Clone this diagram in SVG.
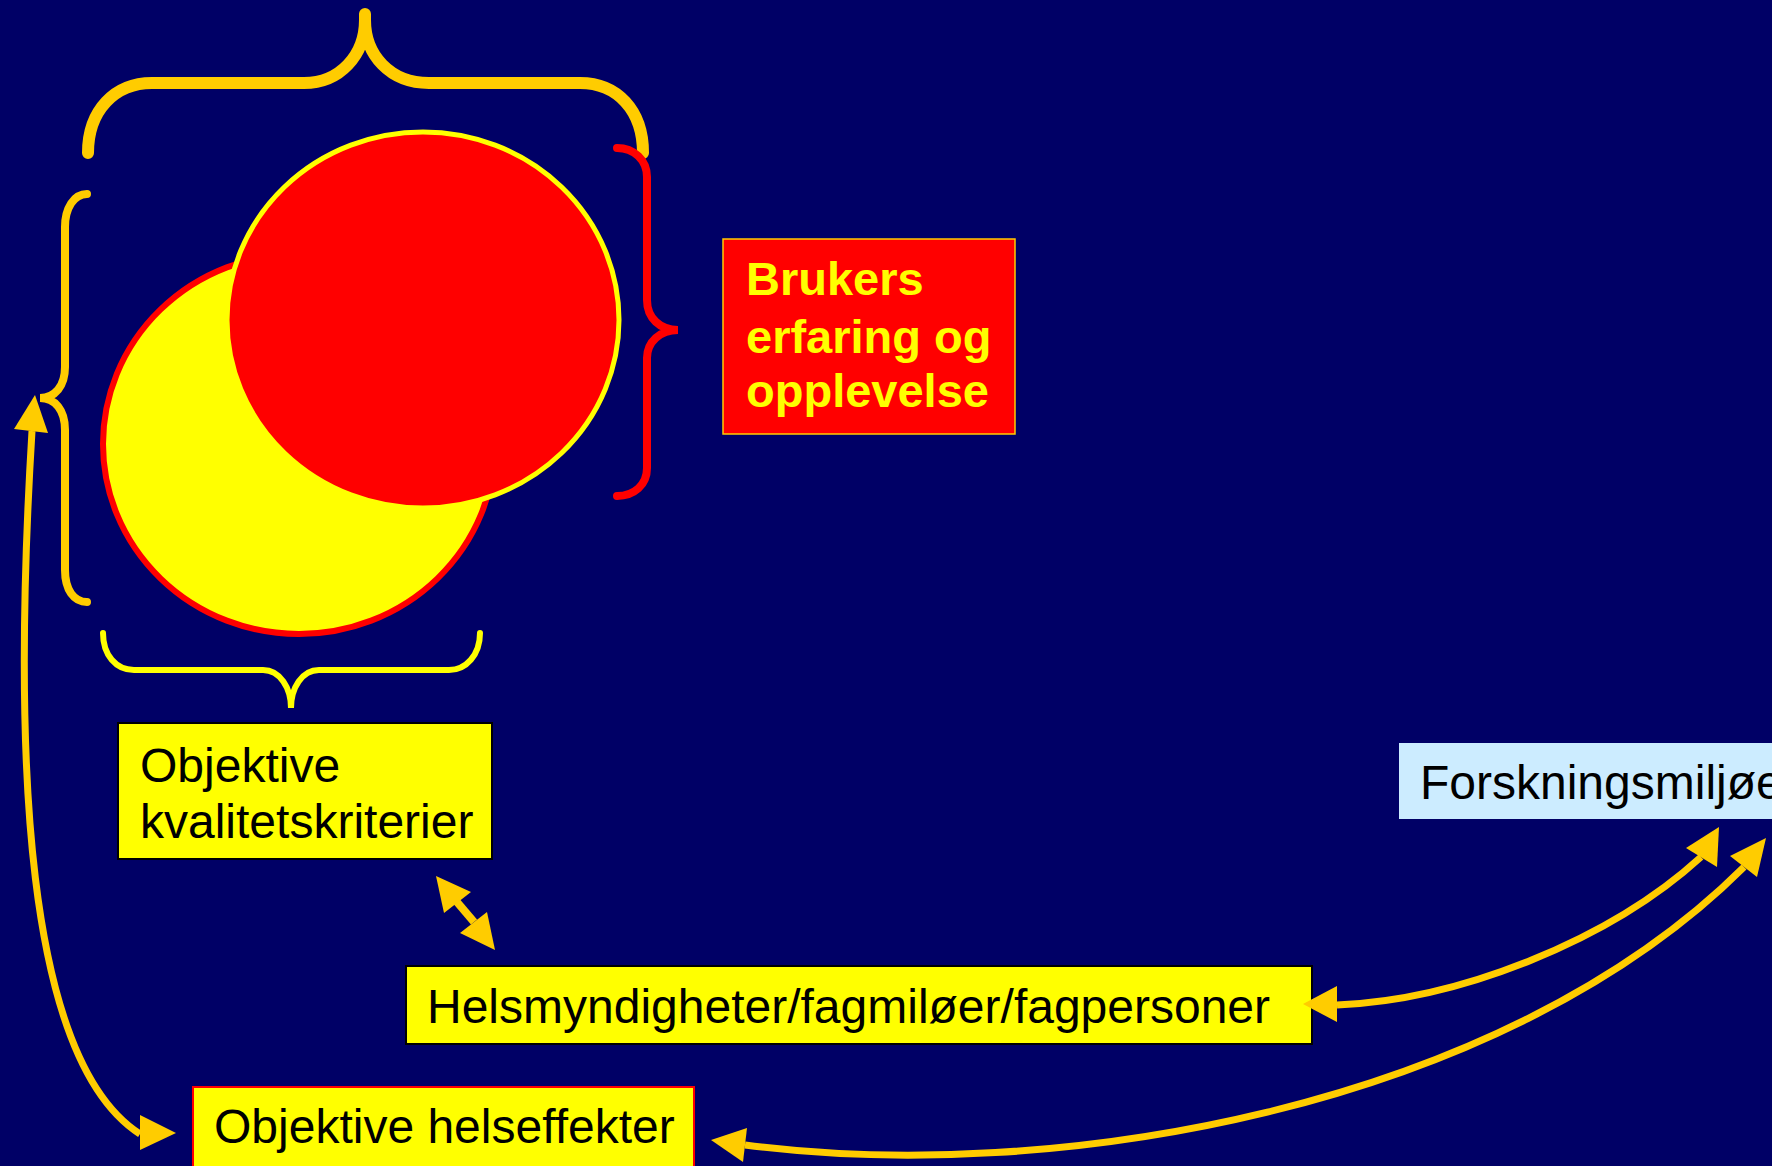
<svg xmlns="http://www.w3.org/2000/svg" width="1772" height="1166" viewBox="0 0 1772 1166">
<style>
.bg{fill:#000066}
.t{font-family:"Liberation Sans",Arial,sans-serif;font-size:48px;fill:#000}
.tb{font-family:"Liberation Sans",Arial,sans-serif;font-size:47px;font-weight:bold;fill:#FFFF00}
.line{fill:none;stroke:#FFCC00;stroke-width:7}
.head{fill:#FFCC00}
.brace{fill:none;stroke-linecap:round}
</style>
<rect class="bg" x="0" y="0" width="1772" height="1166"/>
<g id="circles">
<ellipse cx="299" cy="444" rx="196" ry="190" fill="#FFFF00" stroke="#FF0000" stroke-width="6"/>
<ellipse cx="423" cy="320" rx="196" ry="188" fill="#FF0000" stroke="#FFFF00" stroke-width="5"/>
</g>
<g id="brace-top">
<path class="brace" stroke="#FFCC00" stroke-width="12" stroke-linecap="butt" d="M88,153 C88,110 115,83 152,83 L304,83 C340,83 365,55 365,20 L365,14 M365,20 C365,55 390,83 429,83 L580,83 C617,83 643,110 643,153"/>
</g>
<g id="brace-left">
<path class="brace" stroke="#FFCC00" stroke-width="8" d="M87,194 C74,194 65,208 65,227 L65,367 C65,386 55,398 40,398 C55,398 65,410 65,430 L65,570 C65,590 74,602 87,602"/>
</g>
<g id="brace-right">
<path class="brace" stroke="#FF0000" stroke-width="8" d="M617,148 C634,148 647,160 647,177 L647,300 C647,318 660,330 678,330 C660,330 647,342 647,358 L647,468 C647,485 634,496 617,496"/>
</g>
<g id="brace-bottom">
<path class="brace" stroke="#FFFF00" stroke-width="6" d="M103,633 C103,655 116,670 134,670 L263,670 C280,670 291,688 291,708 C291,688 302,670 319,670 L449,670 C466,670 480,655 480,633"/>
</g>
<g id="node-brukers">
<rect x="723" y="239" width="292" height="195" fill="#FF0000" stroke="#FFCC00" stroke-width="1.5"/>
<text class="tb" x="746" y="295">Brukers</text>
<text class="tb" x="746" y="353">erfaring og</text>
<text class="tb" x="746" y="407">opplevelse</text>
</g>
<g id="node-kvalitet">
<rect x="118" y="723" width="374" height="136" fill="#FFFF00" stroke="#000" stroke-width="2"/>
<text class="t" x="140" y="782">Objektive</text>
<text class="t" x="140" y="838">kvalitetskriterier</text>
</g>
<g id="node-helsmyndigheter">
<rect x="406" y="966" width="906" height="78" fill="#FFFF00" stroke="#000" stroke-width="2"/>
<text class="t" x="427" y="1023">Helsmyndigheter/fagmiløer/fagpersoner</text>
</g>
<g id="node-helseffekter">
<rect x="193" y="1087" width="501" height="80" fill="#FFFF00" stroke="#FF0000" stroke-width="2"/>
<text class="t" x="214" y="1143">Objektive helseffekter</text>
</g>
<g id="node-forskning">
<rect x="1399" y="743" width="380" height="76" fill="#CCECFF"/>
<text class="t" x="1420" y="799">Forskningsmiljøer</text>
</g>
<g id="connectors">
<path class="line" d="M32,431 C12,760 25,1060 140,1134"/>
<polygon class="head" points="35,395 14,429 48,433"/>
<polygon class="head" points="176,1133 140,1115 140,1150"/>
<path class="line" style="stroke-width:8" d="M457,902 L474,922"/>
<polygon class="head" points="436,876 444,913 471,892"/>
<polygon class="head" points="495,950 460,933 487,912"/>
<path class="line" d="M1337,1005 C1460,1000 1610,940 1701,857"/>
<polygon class="head" points="1303,1004 1337,986 1337,1022"/>
<polygon class="head" points="1719,827 1686,848 1717,867"/>
<path class="line" d="M745,1145 C1050,1185 1500,1110 1744,867"/>
<polygon class="head" points="711,1140 747,1128 743,1162"/>
<polygon class="head" points="1766,838 1730,856 1757,877"/>
</g>
</svg>
